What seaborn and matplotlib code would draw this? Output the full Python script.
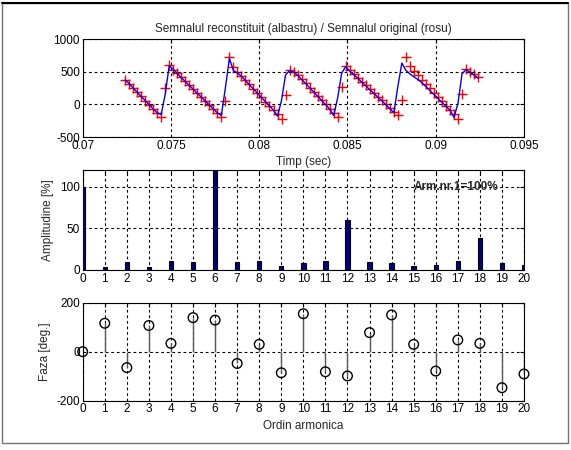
import matplotlib
matplotlib.use("Agg")
import matplotlib.pyplot as plt
import matplotlib.ticker as mticker
from matplotlib.patches import Rectangle
import numpy as np
import seaborn as sns

# sampled signal (red) and reconstruction from 20 harmonics (blue)
t_start = 0.0724
fs = 4400.0
original = [
    380, 316, 251, 187, 122, 58, -7, -71, -136, -200,
    250, 600, 530, 475, 415, 355, 295, 235, 175, 115,
    55, -5, -65, -128, -190, 50, 720, 570, 500, 435,
    369, 304, 238, 173, 107, 42, -24, -89, -155, -220,
    150, 530, 500, 450, 385, 321, 256, 192, 127, 63,
    -2, -66, -131, -195, 260, 580, 520, 462, 405, 347,
    290, 232, 175, 117, 60, 2, -55, -113, -170, 60,
    720, 580, 510, 444, 377, 311, 244, 178, 112, 45,
    -21, -88, -154, -220, 160, 540, 500, 460, 420,
]
reconstructed = [
    370, 320, 250, 185, 120, 60, -5, -70, -130, -155,
    150, 590, 540, 470, 410, 350, 290, 230, 170, 110,
    50, -10, -70, -130, -170, 250, 700, 520, 480, 430,
    365, 300, 235, 170, 105, 40, -25, -90, -180, 60,
    450, 515, 495, 445, 380, 320, 255, 190, 125, 60,
    -5, -70, -170, 100, 480, 575, 510, 455, 400, 340,
    285, 225, 170, 110, 55, -5, -65, -130, 275, 633,
    520, 465, 420, 380, 330, 270, 210, 150, 90, 30,
    -30, -90, -200, 20, 470, 530, 490, 450, 400,
]

# harmonic spectrum
orders = list(range(21))
amplitude = [100, 4, 10, 4, 11, 10, 120, 10, 11, 5, 9,
             11, 60, 10, 9, 5, 6, 11, 38, 9, 6]
phase = [0, 116, -65, 107, 34, 139, 129, -48, 30, -86, 155,
         -82, -99, 78, 150, 30, -79, 48, 34, -147, -91]

time = t_start + np.arange(len(original)) / fs

sns.set_style("white")
plt.rcParams["font.family"] = ["Liberation Sans", "DejaVu Sans"]
plt.rcParams["axes.unicode_minus"] = False

fig = plt.figure(figsize=(5.71, 4.5), dpi=100)
W, H = 571.0, 450.0


def make_axes(top, bottom):
    return fig.add_axes([82.7 / W, 1 - bottom / H, (524 - 82.7) / W, (bottom - top) / H])


def style(ax):
    ax.grid(True, color="black", linestyle=(0, (2.5, 2.5)), linewidth=0.8)
    ax.set_axisbelow(False)
    ax.tick_params(direction="in", length=3, labelsize=8.5, top=True, right=True,
                   pad=2, colors="black")
    for sp in ax.spines.values():
        sp.set_color("black")
        sp.set_linewidth(0.8)


# top: signal
ax1 = make_axes(39, 137)
sns.scatterplot(x=time, y=original, ax=ax1, marker="+", color="red", s=45,
                linewidth=1.0, zorder=2)
sns.lineplot(x=time, y=reconstructed, ax=ax1, color="blue", linewidth=1.0,
             estimator=None, sort=False, zorder=3)
ax1.set_xlim(0.07, 0.095)
ax1.set_ylim(-500, 1000)
ax1.set_xticks([0.07, 0.075, 0.08, 0.085, 0.09, 0.095])
ax1.set_yticks([-500, 0, 500, 1000])
ax1.xaxis.set_major_formatter(mticker.FormatStrFormatter("%g"))
ax1.set_title("Semnalul reconstituit (albastru) / Semnalul original (rosu)",
              fontsize=8.5, pad=5)
ax1.set_xlabel("Timp (sec)", fontsize=8.5, labelpad=3)
style(ax1)

# middle: amplitude spectrum
ax2 = make_axes(170, 270)
sns.barplot(x=orders, y=amplitude, ax=ax2, native_scale=True, width=0.2,
            color=(0, 0, 0.5), saturation=1, edgecolor="black", linewidth=0.8,
            zorder=3)
ax2.set_xlim(0, 20)
ax2.set_ylim(0, 120)
ax2.set_xticks(orders)
ax2.set_yticks([0, 50, 100])
ax2.set_ylabel("Amplitudine [%]", fontsize=8.5, labelpad=4)
ax2.text(15.0, 100, "Arm.nr.1=100%", fontsize=8.5, fontweight="bold",
         va="center", ha="left")
style(ax2)

# bottom: phase spectrum
ax3 = make_axes(302.7, 400.7)
ax3.vlines(orders, 0, phase, color="0.35", linewidth=1.0, zorder=3)
sns.scatterplot(x=orders, y=phase, ax=ax3, marker="o", color="black",
                facecolor="none", edgecolor="black", s=48, linewidth=1.0,
                zorder=4, clip_on=False)
ax3.set_xlim(0, 20)
ax3.set_ylim(-200, 200)
ax3.set_xticks(orders)
ax3.set_yticks([-200, 0, 200])
ax3.set_ylabel("Faza [deg.]", fontsize=8.5, labelpad=4)
ax3.set_xlabel("Ordin armonica", fontsize=8.5, labelpad=3)
style(ax3)

fig.patches.append(Rectangle((2 / W, 1 - 443 / H), 566 / W, 440 / H,
                             transform=fig.transFigure, fill=False,
                             edgecolor="0.45", linewidth=1.0))
fig.add_artist(plt.Line2D([2 / W, 568 / W], [1 - 3 / H, 1 - 3 / H],
                          transform=fig.transFigure, color="black", linewidth=1.5))

fig.savefig("out.png", dpi=100)
